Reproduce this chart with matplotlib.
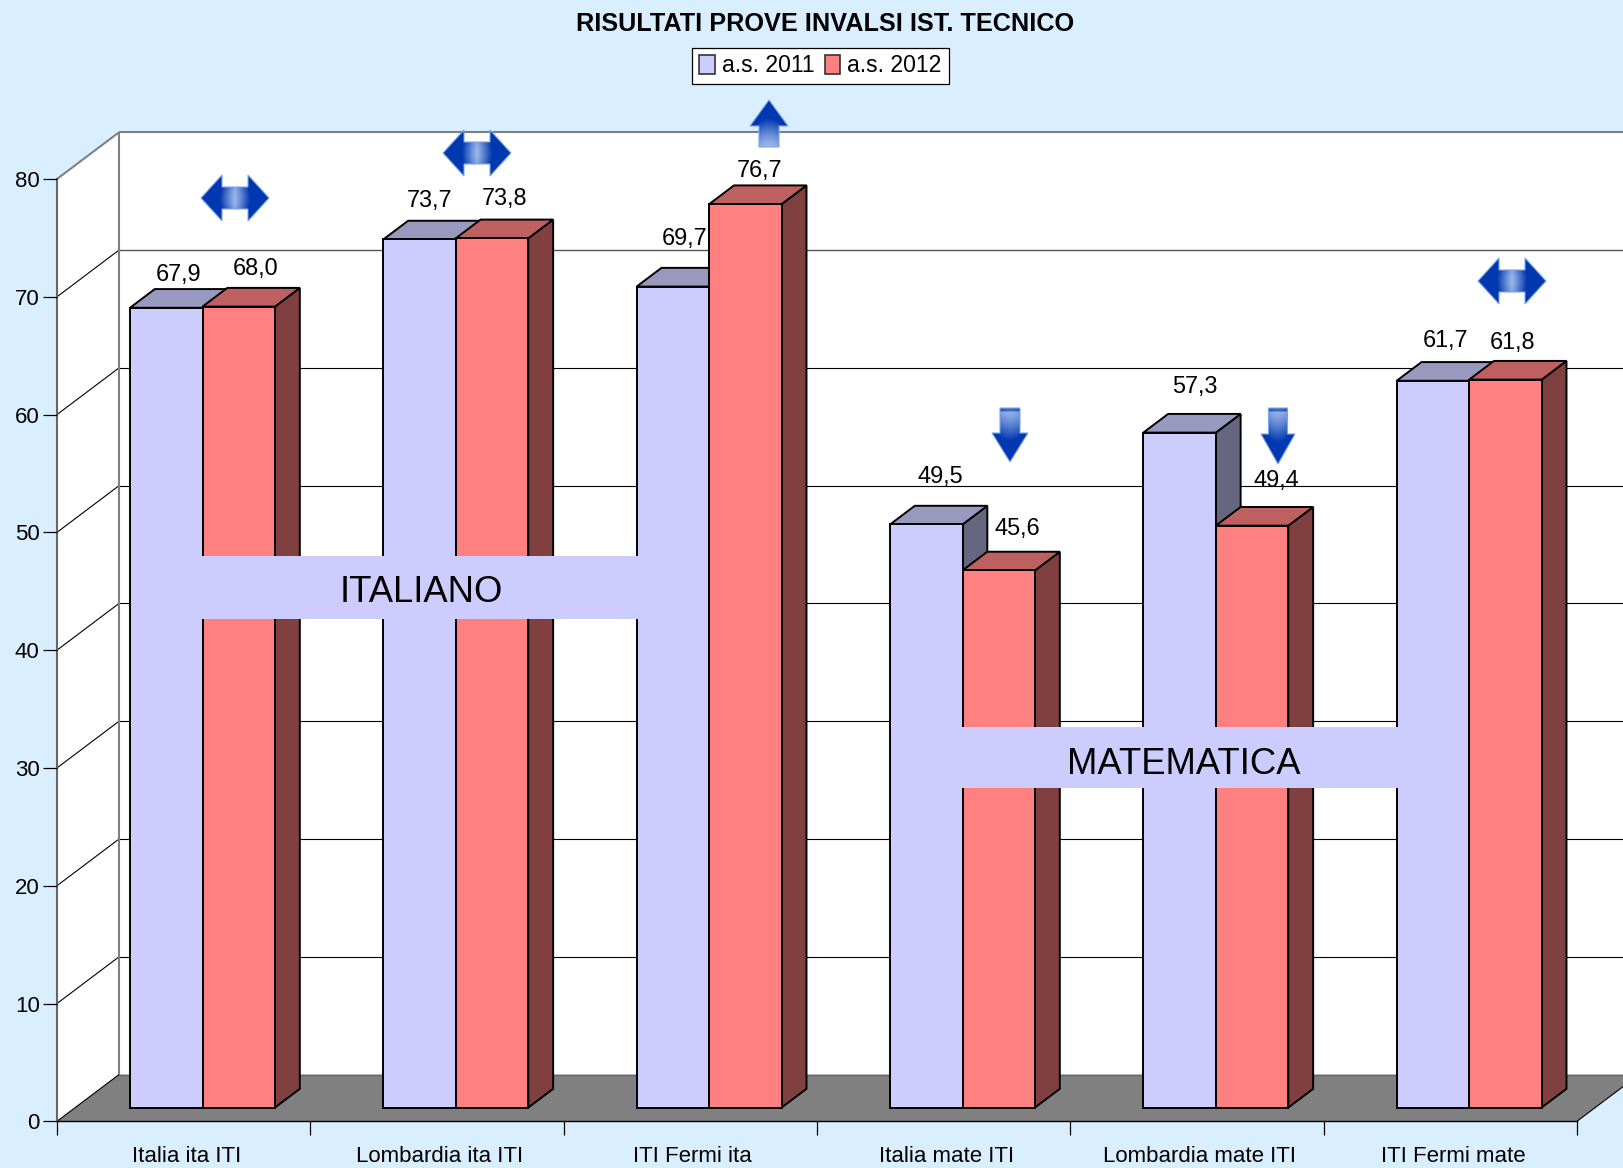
import numpy as np
import matplotlib
matplotlib.use("Agg")
import matplotlib.pyplot as plt
from matplotlib.patches import Polygon, Patch, Rectangle, PathPatch
from matplotlib.path import Path
from matplotlib.transforms import ScaledTranslation

plt.rcParams['font.family'] = ['Liberation Sans', 'DejaVu Sans']

# ---- data ----
categories = ["Italia ita ITI", "Lombardia ita ITI", "ITI Fermi ita",
              "Italia mate ITI", "Lombardia mate ITI", "ITI Fermi mate"]
values_2011 = [67.9, 73.7, 69.7, 49.5, 57.3, 61.7]
values_2012 = [68.0, 73.8, 76.7, 45.6, 49.4, 61.8]
series_names = ["a.s. 2011", "a.s. 2012"]
y_ticks = [0, 10, 20, 30, 40, 50, 60, 70, 80]
title = "RISULTATI PROVE INVALSI IST. TECNICO"
band_texts = ["ITALIANO", "MATEMATICA"]

# ---- layout (pixels of the output image) ----
W, H = 1623, 1168
FX0, FX1, FY0, FY80 = 57.0, 1577.0, 1121.3, 179.0
DEPTH_DX_PX, DEPTH_DY_PX = 62.0, 46.7
BG = "#D9EFFF"
LAV, LAV_TOP, LAV_SIDE = "#CCCCFF", "#9999BF", "#666680"
RED, RED_TOP, RED_SIDE = "#FF8080", "#BF6060", "#804040"
FLOOR = "#808080"
FS = 16.0

# data label centres in pixels
label_pos_2011 = [(179, 275), (430, 200), (685, 238), (940, 476), (1195, 387), (1446, 340)]
label_pos_2012 = [(256, 268), (505, 199), (759, 170), (1017, 529), (1276, 480), (1513, 343)]

fig = plt.figure(figsize=(W / 100, H / 100), dpi=100, facecolor=BG)
ax = fig.add_axes([FX0 / W, 1 - FY0 / H, (FX1 - FX0) / W, (FY0 - FY80) / H])
ax.set_xlim(0, 6)
ax.set_ylim(0, 80)
ax.patch.set_alpha(0)

du = DEPTH_DX_PX / ((FX1 - FX0) / 6)          # depth in category units
dv = DEPTH_DY_PX / ((FY0 - FY80) / 80)        # depth in value units


def proj(x, y, d):
    return (x + d * du, y + d * dv)


def quad(pts, fc, ec="black", lw=1.4, z=2):
    ax.add_patch(Polygon([proj(*p) for p in pts], closed=True, facecolor=fc,
                         edgecolor=ec, linewidth=lw, zorder=z,
                         clip_on=False, joinstyle="miter"))


# walls and floor
quad([(0, 0, 1), (6, 0, 1), (6, 80, 1), (0, 80, 1)], "white", "none", 0, 0.5)
quad([(0, 0, 0), (0, 0, 1), (0, 80, 1), (0, 80, 0)], "white", "none", 0, 0.5)
quad([(0, 0, 0), (0, 0, 1), (6, 0, 1), (6, 0, 0)], FLOOR, "none", 0, 0.8)


def line(p, q, color, lw, z=1):
    a, b = proj(*p), proj(*q)
    ax.plot([a[0], b[0]], [a[1], b[1]], color=color, lw=lw, zorder=z,
            clip_on=False, solid_capstyle="butt")


for v in y_ticks[1:-1]:
    c = "#555555" if v == 70 else "black"
    line((0, v, 1), (6, v, 1), c, 1.0 if v == 70 else 0.8)
    line((0, v, 0), (0, v, 1), "black", 0.8)
line((0, 80, 1), (6, 80, 1), "#808080", 1.5)
line((0, 80, 0), (0, 80, 1), "#808080", 1.5)
line((0, 0, 1), (0, 80, 1), "#808080", 1.5)
line((0, 0, 1), (6, 0, 1), "#666666", 1.0, 1.2)
line((0, 0, 0), (0, 0, 1), "black", 0.8, 1.2)
line((6, 0, 0), (6, 0, 1), "black", 0.8, 1.2)

# bars
GAP, BW, D0, D1 = 0.216, 0.2862, 0.295, 0.695


def bar(x0, x1, v, front, top, side, z):
    quad([(x1, 0, D0), (x1, 0, D1), (x1, v, D1), (x1, v, D0)], side, z=z)
    quad([(x0, v, D0), (x1, v, D0), (x1, v, D1), (x0, v, D1)], top, z=z)
    quad([(x0, 0, D0), (x1, 0, D0), (x1, v, D0), (x0, v, D0)], front, z=z)


for i, (a, b) in enumerate(zip(values_2011, values_2012)):
    x = i + GAP
    bar(x, x + BW, a, LAV, LAV_TOP, LAV_SIDE, 2 + i * 0.1)
    bar(x + BW, x + 2 * BW, b, RED, RED_TOP, RED_SIDE, 2.05 + i * 0.1)

# axis dressing
for s in ("top", "right"):
    ax.spines[s].set_visible(False)
ax.spines["left"].set_color("#666666")
ax.spines["left"].set_linewidth(1.5)
ax.spines["bottom"].set_linewidth(1.0)
ax.spines["bottom"].set_zorder(1.5)
ax.spines["left"].set_zorder(1.5)
ax.set_yticks(y_ticks)
ax.tick_params(axis="y", length=10, width=0.9, pad=2.5, labelsize=FS)
ax.set_xticks(range(7))
ax.set_xticklabels([])
ax.tick_params(axis="x", which="major", length=10, width=0.9)
ax.set_xticks(np.arange(6) + 0.5, minor=True)
ax.set_xticklabels(categories, minor=True, fontsize=16.0)
ax.tick_params(axis="x", which="minor", length=0, pad=17.5)
for lab in ax.get_xticklabels(minor=True):
    lab.set_transform(lab.get_transform() + ScaledTranslation(0.025, 0, fig.dpi_scale_trans))

leg = fig.legend(handles=[Patch(facecolor=LAV, edgecolor="#333333", lw=1.2),
                          Patch(facecolor=RED, edgecolor="#333333", lw=1.2)],
                 labels=series_names, ncol=2, fontsize=16.6, frameon=True, fancybox=False,
                 edgecolor="black", facecolor="white", framealpha=1,
                 loc="center", bbox_to_anchor=(820.5 / W, 1 - 66 / H),
                 handlelength=0.68, handleheight=0.9, handletextpad=0.3,
                 columnspacing=0.45, borderpad=0.3, borderaxespad=0)
leg.get_frame().set_linewidth(0.9)

# overlay in pixel coordinates for annotations drawn on top of the chart
deco = fig.add_axes([0, 0, 1, 1], zorder=5)
deco.set_xlim(0, W)
deco.set_ylim(H, 0)
deco.axis("off")
deco.patch.set_alpha(0)

deco.text(825, 24, title, ha="center", va="center", fontsize=18.2, fontweight="bold")

# lavender bands
deco.add_patch(Rectangle((201, 556), 441, 63, facecolor=LAV, edgecolor="none"))
deco.add_patch(Rectangle((960, 727), 440, 61, facecolor=LAV, edgecolor="none"))
deco.text(421, 593, band_texts[0], ha="center", va="center", fontsize=26.2)
deco.text(1184, 765, band_texts[1], ha="center", va="center", fontsize=26.2)

# data labels
for vals, poss in ((values_2011, label_pos_2011), (values_2012, label_pos_2012)):
    for v, (px, py) in zip(vals, poss):
        deco.text(px, py, f"{v:.1f}".replace(".", ","), ha="center", va="center", fontsize=16.9)

# blue arrows
DARK = np.array([0x00, 0x38, 0xB0]) / 255
LIGHT = np.array([0x9C, 0xB8, 0xEA]) / 255


def shade(poly, s):
    poly = np.asarray(poly, float)
    x0, x1 = poly[:, 0].min(), poly[:, 0].max()
    y0, y1 = poly[:, 1].min(), poly[:, 1].max()
    xs, ys = np.meshgrid(np.linspace(0, 1, 80), np.linspace(0, 1, 80))
    t = np.clip(s(xs, ys), 0, 1)[..., None]
    img = LIGHT * (1 - t) + DARK * t
    im = deco.imshow(img, extent=(x0, x1, y1, y0), aspect="auto", zorder=6,
                     interpolation="bilinear")
    patch = PathPatch(Path(np.vstack([poly, poly[:1]]), closed=True),
                      transform=deco.transData, facecolor="none", edgecolor="none")
    deco.add_patch(patch)
    im.set_clip_path(patch)
    deco.add_patch(Polygon(poly, closed=True, facecolor="none",
                           edgecolor="#7FA5E8", lw=0.8, zorder=6.5))


def double_arrow(cx, cy):
    hw, hh, nx, sh = 34, 23, 13, 11
    poly = [(cx - hw, cy), (cx - nx, cy - hh), (cx - nx, cy - sh), (cx + nx, cy - sh),
            (cx + nx, cy - hh), (cx + hw, cy), (cx + nx, cy + hh), (cx + nx, cy + sh),
            (cx - nx, cy + sh), (cx - nx, cy + hh)]
    shade(poly, lambda u, v: np.abs(2 * u - 1) ** 1.1 * 2.4 + 0.6 * np.abs(2 * v - 1) ** 2)


def vert_arrow(cx, tip, tail, neck, hw, sw):
    poly = [(cx, tip), (cx + hw, neck), (cx + sw, neck), (cx + sw, tail),
            (cx - sw, tail), (cx - sw, neck), (cx - hw, neck)]
    if tip > tail:
        s = lambda u, v: v ** 1.3 * 1.9 + 0.5 * np.abs(2 * u - 1) ** 2 + 0.6 * (v < 0.06)
    else:
        s = lambda u, v: (1 - v) ** 1.3 * 1.9 + 0.5 * np.abs(2 * u - 1) ** 2
    shade(poly, s)


double_arrow(235, 198)
double_arrow(477, 153)
double_arrow(1512, 281)
vert_arrow(769, 100, 147, 126, 19, 10)
vert_arrow(1010, 462, 408, 433, 18, 10)
vert_arrow(1278, 464, 408, 434, 17, 9.5)
deco.set_xlim(0, W)
deco.set_ylim(H, 0)

fig.savefig("out.png", dpi=100, facecolor=BG)
